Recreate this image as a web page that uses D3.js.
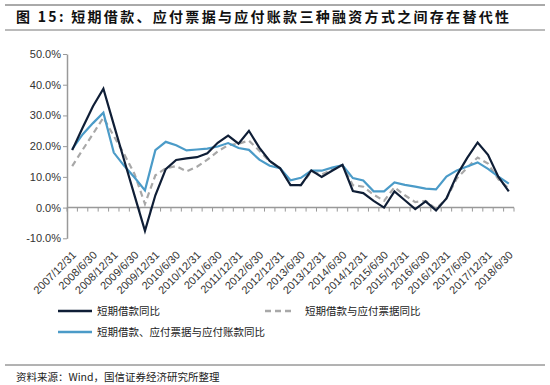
<!DOCTYPE html>
<html>
<head>
<meta charset="utf-8">
<title></title>
<style>
body { margin: 0; background: #fff; }
text { font-family: "Liberation Sans", "Noto Sans CJK SC", sans-serif; }
.tick text { fill: #333; font-size: 11px; }
.cn { font-family: "Noto Sans CJK SC", sans-serif; }
</style>
</head>
<body>
<script src="https://cdn.jsdelivr.net/npm/d3@7"></script>
<script>

var dates = ["2007/12/31",
  "2008/3/31","2008/6/30","2008/9/30","2008/12/31",
  "2009/3/31","2009/6/30","2009/9/30","2009/12/31",
  "2010/3/31","2010/6/30","2010/9/30","2010/12/31",
  "2011/3/31","2011/6/30","2011/9/30","2011/12/31",
  "2012/3/31","2012/6/30","2012/9/30","2012/12/31",
  "2013/3/31","2013/6/30","2013/9/30","2013/12/31",
  "2014/3/31","2014/6/30","2014/9/30","2014/12/31",
  "2015/3/31","2015/6/30","2015/9/30","2015/12/31",
  "2016/3/31","2016/6/30","2016/9/30","2016/12/31",
  "2017/3/31","2017/6/30","2017/9/30","2017/12/31",
  "2018/3/31","2018/6/30"];

// 短期借款同比 (%)
var loanYoY = [18.7, 26, 33, 38.7, 27, 15.4, 3.9, -7.6, 4, 12.5, 15.5, 16, 16.4,
  17.7, 21.1, 23.4, 20.8, 25, 19.5, 15.2, 12.8, 7.3, 7.3, 12.1, 10, 12, 13.9,
  5.4, 4.7, 2.2, 0, 5.3, 2.4, -0.5, 2, -0.9, 3, 10.5, 16.2, 21.2, 17.2, 10, 5.3];

// 短期借款与应付票据同比 (%)
var loanBillYoY = [13.5, 18.8, 24, 29.3, 23.3, 17.4, 10.9, 1.2, 10.5, 12.8, 13.5, 11.8, 13.3,
  15.6, 18.3, 20.3, 20.8, 21.8, 18.5, 15, 12.9, 7.4, 7.3, 11.7, 10.8, 12.3, 13.8,
  7.3, 6.8, 4.2, 2.2, 6.6, 4, 1.8, 2.2, -0.4, 2.9, 9.5, 13, 16.3, 14.3, 9.2, 6.2];

// 短期借款、应付票据与应付账款同比 (%)
var loanBillPayYoY = [19, 23.8, 27.5, 30.9, 17.9, 13.6, 9.8, 5.6, 18.7, 21.4, 20.3, 18.6, 18.9,
  19.2, 19.9, 21, 19.4, 18.8, 15.6, 13.6, 12.8, 8.9, 9.7, 12, 12, 13, 13.8,
  9.6, 8.8, 5.3, 5.3, 8.2, 7.4, 6.8, 6.2, 5.9, 10.1, 12.1, 13.4, 14.7, 12.6, 10.1, 7.8];

var yTicks = [-10, 0, 10, 20, 30, 40, 50];

var series = [
  {name: "短期借款同比", values: loanYoY, color: "#0f1e36", dash: null},
  {name: "短期借款与应付票据同比", values: loanBillYoY, color: "#a8a8a8", dash: "6,4"},
  {name: "短期借款、应付票据与应付账款同比", values: loanBillPayYoY, color: "#4b9bc8", dash: null}
];

var width = 550, height = 385;

var svg = d3.select("body").append("svg")
    .attr("width", width)
    .attr("height", height);

// title bar
svg.append("line").attr("x1", 5).attr("x2", 545).attr("y1", 5).attr("y2", 5)
    .attr("stroke", "#555").attr("stroke-width", 1);
svg.append("line").attr("x1", 5).attr("x2", 545).attr("y1", 30).attr("y2", 30)
    .attr("stroke", "#777").attr("stroke-width", 1);
svg.append("text")
    .attr("class", "cn")
    .attr("x", 16).attr("y", 22)
    .style("font-size", "14px")
    .style("font-weight", "bold")
    .style("letter-spacing", "2.3px")
    .attr("fill", "#111")
    .text("图 15: 短期借款、应付票据与应付账款三种融资方式之间存在替代性");

var x = d3.scaleBand()
    .domain(dates)
    .range([67, 514]);

var y = d3.scaleLinear()
    .domain([-10, 50])
    .range([238.3, 54]);

function cx(d) { return x(d) + x.bandwidth() / 2; }

// y axis
var yAxis = svg.append("g")
    .attr("transform", "translate(67,0)")
    .call(d3.axisLeft(y).tickValues(yTicks).tickSize(4).tickSizeOuter(0)
      .tickFormat(function(d) { return d.toFixed(1) + "%"; }));
yAxis.select(".domain").attr("stroke", "#999").attr("stroke-width", 1.5);
yAxis.selectAll(".tick line").attr("stroke", "#999");
yAxis.selectAll(".tick text").attr("x", -6);

// x axis at zero
var xg = svg.append("g");
xg.append("line")
    .attr("x1", 67).attr("x2", 514)
    .attr("y1", y(0)).attr("y2", y(0))
    .attr("stroke", "#999").attr("stroke-width", 1.5);
xg.selectAll("line.tk")
    .data(dates.concat(["end"]))
    .enter().append("line")
    .attr("class", "tk")
    .attr("x1", function(d, i) { return 67 + i * x.step(); })
    .attr("x2", function(d, i) { return 67 + i * x.step(); })
    .attr("y1", y(0)).attr("y2", y(0) + 4)
    .attr("stroke", "#999");

xg.selectAll("text.xl")
    .data(dates.filter(function(d, i) { return i % 2 === 0; }))
    .enter().append("text")
    .attr("class", "xl")
    .attr("transform", function(d) { return "translate(" + (cx(d) + 2) + ",253) rotate(-45)"; })
    .attr("text-anchor", "end")
    .attr("dy", "0.35em")
    .style("font-size", "11px")
    .attr("fill", "#333")
    .text(function(d) { return d; });

// lines
var line = d3.line()
    .x(function(d, i) { return cx(dates[i]); })
    .y(function(d) { return y(d); });

var drawOrder = [series[1], series[2], series[0]];
svg.selectAll("path.series")
    .data(drawOrder)
    .enter().append("path")
    .attr("class", "series")
    .attr("fill", "none")
    .attr("stroke", function(d) { return d.color; })
    .attr("stroke-width", 2.2)
    .attr("stroke-dasharray", function(d) { return d.dash; })
    .attr("stroke-linejoin", "miter")
    .attr("d", function(d) { return line(d.values); });

// legend
var legendPos = [[58, 311], [265, 311], [58, 332]];
var lg = svg.selectAll("g.legend")
    .data(series)
    .enter().append("g")
    .attr("class", "legend")
    .attr("transform", function(d, i) { return "translate(" + legendPos[i][0] + "," + legendPos[i][1] + ")"; });
lg.append("line")
    .attr("x1", 0).attr("x2", function(d, i) { return i === 1 ? 30 : 34; })
    .attr("y1", 0).attr("y2", 0)
    .attr("stroke", function(d) { return d.color; })
    .attr("stroke-width", 2.5)
    .attr("stroke-dasharray", function(d) { return d.dash; });
lg.append("text")
    .attr("class", "cn")
    .attr("x", function(d, i) { return i === 1 ? 40 : 39; })
    .attr("dy", "0.35em")
    .style("font-size", "10.5px")
    .attr("fill", "#222")
    .text(function(d) { return d.name; });

// source
svg.append("line").attr("x1", 5).attr("x2", 545).attr("y1", 365).attr("y2", 365)
    .attr("stroke", "#666").attr("stroke-width", 1);
svg.append("text")
    .attr("class", "cn")
    .attr("x", 16).attr("y", 381)
    .style("font-size", "10.5px")
    .attr("fill", "#222")
    .text("资料来源：Wind，国信证券经济研究所整理");

</script>
</body>
</html>
